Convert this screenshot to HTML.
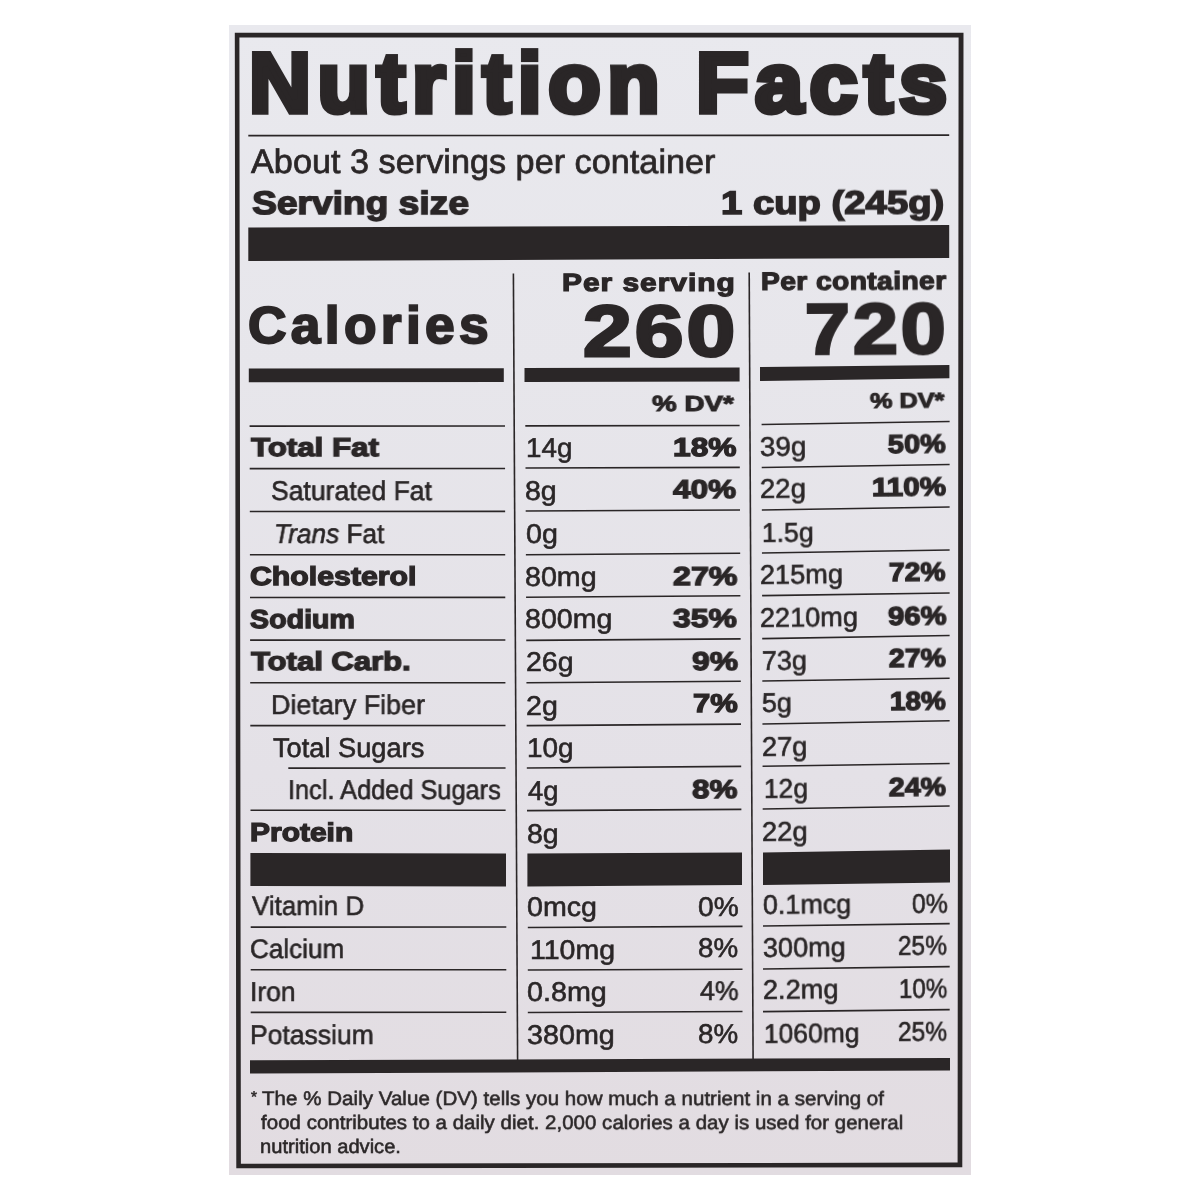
<!DOCTYPE html>
<html lang="en">
<head>
<meta charset="utf-8">
<title>Nutrition Facts</title>
<style>
html,body{margin:0;padding:0;background:#fff;}
#page{position:relative;width:1200px;height:1200px;overflow:hidden;background:#fff;filter:blur(0.5px);}
#panel{position:absolute;left:229px;top:25px;width:741.5px;height:1149.5px;background:linear-gradient(180deg,#e9e9ee 0%,#e7e6eb 30%,#e4e1e7 65%,#e2dce1 100%);}
#shapes{position:absolute;left:0;top:0;}
.t{position:absolute;will-change:transform;text-rendering:geometricPrecision;white-space:pre;font-family:"Liberation Sans", sans-serif;color:#2a2627;margin:0;padding:0;}
</style>
</head>
<body>
<div id="page">
<div id="panel"></div>
<svg id="shapes" width="1200" height="1200" viewBox="0 0 1200 1200">
<path fill="#2a2627" fill-rule="evenodd" d="M234.80,32.80 L963.50,32.80 L962.30,1167.20 L236.30,1168.30 Z M239.40,37.40 L958.60,37.40 L957.60,1162.60 L240.90,1163.70 Z"/>
<polygon fill="#2a2627" points="248.30,134.85 949.20,134.35 949.20,136.05 248.30,136.55"/>
<polygon fill="#2a2627" points="248.30,227.50 949.20,225.00 949.20,258.00 248.30,261.00"/>
<polygon fill="#2a2627" points="512.60,273.50 514.20,273.50 518.40,1060.50 516.80,1060.50"/>
<polygon fill="#2a2627" points="748.40,272.50 750.00,272.50 753.90,1059.50 752.30,1059.50"/>
<polygon fill="#2a2627" points="248.80,368.50 503.80,368.30 503.80,382.00 248.80,382.20"/>
<polygon fill="#2a2627" points="524.50,367.90 739.60,367.50 739.60,381.40 524.50,381.90"/>
<polygon fill="#2a2627" points="760.00,367.00 949.40,365.00 949.40,378.20 760.00,381.00"/>
<polygon fill="#2a2627" points="249.60,425.30 505.00,425.20 505.00,426.80 249.60,426.90"/>
<polygon fill="#2a2627" points="249.70,467.80 505.07,467.70 505.07,469.30 249.70,469.40"/>
<polygon fill="#2a2627" points="249.80,510.70 505.14,510.60 505.14,512.20 249.80,512.30"/>
<polygon fill="#2a2627" points="249.90,554.00 505.21,553.90 505.21,555.50 249.90,555.60"/>
<polygon fill="#2a2627" points="250.00,596.70 505.28,596.60 505.28,598.20 250.00,598.30"/>
<polygon fill="#2a2627" points="250.10,639.30 505.35,639.20 505.35,640.80 250.10,640.90"/>
<polygon fill="#2a2627" points="250.20,682.00 505.42,681.90 505.42,683.50 250.20,683.60"/>
<polygon fill="#2a2627" points="250.30,724.80 505.49,724.70 505.49,726.30 250.30,726.40"/>
<polygon fill="#2a2627" points="288.30,767.30 505.56,767.20 505.56,768.80 288.30,768.90"/>
<polygon fill="#2a2627" points="250.50,809.50 505.63,809.40 505.63,811.00 250.50,811.10"/>
<polygon fill="#2a2627" points="525.30,425.10 739.60,424.70 739.60,426.30 525.30,426.70"/>
<polygon fill="#2a2627" points="525.49,467.20 739.80,466.60 739.80,468.20 525.49,468.80"/>
<polygon fill="#2a2627" points="525.68,510.20 740.00,509.20 740.00,510.80 525.68,511.80"/>
<polygon fill="#2a2627" points="525.87,554.00 740.20,552.50 740.20,554.10 525.87,555.60"/>
<polygon fill="#2a2627" points="526.06,596.50 740.40,595.00 740.40,596.60 526.06,598.10"/>
<polygon fill="#2a2627" points="526.25,639.60 740.60,638.10 740.60,639.70 526.25,641.20"/>
<polygon fill="#2a2627" points="526.44,681.90 740.80,680.50 740.80,682.10 526.44,683.50"/>
<polygon fill="#2a2627" points="526.63,724.80 741.00,723.30 741.00,724.90 526.63,726.40"/>
<polygon fill="#2a2627" points="526.82,767.20 741.20,765.60 741.20,767.20 526.82,768.80"/>
<polygon fill="#2a2627" points="527.01,809.80 741.40,808.60 741.40,810.20 527.01,811.40"/>
<polygon fill="#2a2627" points="761.60,423.70 949.60,420.70 949.60,422.30 761.60,425.30"/>
<polygon fill="#2a2627" points="761.72,466.70 949.60,463.70 949.60,465.30 761.72,468.30"/>
<polygon fill="#2a2627" points="761.84,509.20 949.60,506.20 949.60,507.80 761.84,510.80"/>
<polygon fill="#2a2627" points="761.96,552.20 949.60,549.20 949.60,550.80 761.96,553.80"/>
<polygon fill="#2a2627" points="762.08,594.80 949.60,592.20 949.60,593.80 762.08,596.40"/>
<polygon fill="#2a2627" points="762.20,637.80 949.60,634.70 949.60,636.30 762.20,639.40"/>
<polygon fill="#2a2627" points="762.32,680.20 949.60,677.50 949.60,679.10 762.32,681.80"/>
<polygon fill="#2a2627" points="762.44,723.20 949.60,720.00 949.60,721.60 762.44,724.80"/>
<polygon fill="#2a2627" points="762.56,765.40 949.60,762.70 949.60,764.30 762.56,767.00"/>
<polygon fill="#2a2627" points="762.68,808.20 949.60,805.20 949.60,806.80 762.68,809.80"/>
<polygon fill="#2a2627" points="250.40,853.00 506.00,853.50 506.00,886.50 250.40,886.10"/>
<polygon fill="#2a2627" points="527.40,853.50 742.00,852.50 742.00,885.00 527.40,886.50"/>
<polygon fill="#2a2627" points="763.00,852.50 950.00,849.50 950.00,882.50 763.00,885.00"/>
<polygon fill="#2a2627" points="250.70,926.30 506.30,926.20 506.30,927.80 250.70,927.90"/>
<polygon fill="#2a2627" points="250.70,969.00 506.30,968.90 506.30,970.50 250.70,970.60"/>
<polygon fill="#2a2627" points="250.70,1011.60 506.30,1011.50 506.30,1013.10 250.70,1013.20"/>
<polygon fill="#2a2627" points="527.80,926.70 742.50,925.60 742.50,927.20 527.80,928.30"/>
<polygon fill="#2a2627" points="527.80,969.20 742.50,968.50 742.50,970.10 527.80,970.80"/>
<polygon fill="#2a2627" points="527.80,1011.70 742.50,1010.70 742.50,1012.30 527.80,1013.30"/>
<polygon fill="#2a2627" points="763.00,925.20 949.70,922.80 949.70,924.40 763.00,926.80"/>
<polygon fill="#2a2627" points="763.00,968.20 949.70,965.80 949.70,967.40 763.00,969.80"/>
<polygon fill="#2a2627" points="763.00,1010.80 949.70,1008.80 949.70,1010.40 763.00,1012.40"/>
<polygon fill="#2a2627" points="250.00,1060.20 950.00,1058.00 950.00,1070.50 250.00,1073.50"/>
</svg>
<div class="t" style="left:248.93px;top:36.21px;font-size:84.53px;line-height:94.43px;font-weight:700;-webkit-text-stroke:5.5px #2a2627;letter-spacing:6.564px;transform-origin:0 76.52px;transform:rotate(0.02deg) scaleX(1.0149);">Nutrition</div>
<div class="t" style="left:696.39px;top:36.23px;font-size:84.54px;line-height:94.45px;font-weight:700;-webkit-text-stroke:5.5px #2a2627;letter-spacing:6.138px;transform-origin:0 76.53px;transform:rotate(0.02deg) scaleX(1.0234);">Facts</div>
<div class="t" style="left:251.23px;top:143.96px;font-size:33.92px;line-height:37.90px;-webkit-text-stroke:0.7px #2a2627;transform-origin:0 30.71px;transform:rotate(0.02deg) scaleX(1.0100);">About 3 servings per container</div>
<div class="t" style="left:251.92px;top:185.46px;font-size:32.57px;line-height:36.39px;font-weight:700;-webkit-text-stroke:1.5px #2a2627;transform-origin:0 29.49px;transform:rotate(0.02deg) scaleX(1.1415);">Serving size</div>
<div class="t" style="left:720.55px;top:185.16px;font-size:32.58px;line-height:36.40px;font-weight:700;-webkit-text-stroke:1.5px #2a2627;transform-origin:0 29.49px;transform:rotate(-0.15deg) scaleX(1.1746);">1 cup (245g)</div>
<div class="t" style="left:247.82px;top:296.66px;font-size:51.97px;line-height:58.06px;font-weight:700;-webkit-text-stroke:2.0px #2a2627;letter-spacing:4.241px;transform-origin:0 47.05px;transform:rotate(0.02deg) scaleX(1.0252);">Calories</div>
<div class="t" style="left:561.58px;top:270.30px;font-size:24.99px;line-height:27.91px;font-weight:700;-webkit-text-stroke:1.2px #2a2627;letter-spacing:0.834px;transform-origin:0 22.62px;transform:rotate(0.02deg) scaleX(1.1964);">Per serving</div>
<div class="t" style="left:582.95px;top:291.72px;font-size:72.32px;line-height:80.79px;font-weight:700;-webkit-text-stroke:2.8px #2a2627;letter-spacing:2.487px;transform-origin:0 65.46px;transform:rotate(0.02deg) scaleX(1.2115);">260</div>
<div class="t" style="left:760.52px;top:268.47px;font-size:25.31px;line-height:28.28px;font-weight:700;-webkit-text-stroke:1.2px #2a2627;letter-spacing:0.333px;transform-origin:0 22.92px;transform:rotate(-0.25deg) scaleX(1.1176);">Per container</div>
<div class="t" style="left:805.03px;top:290.24px;font-size:71.84px;line-height:80.26px;font-weight:700;-webkit-text-stroke:2.6px #2a2627;letter-spacing:2.510px;transform-origin:0 65.04px;transform:rotate(-0.3deg) scaleX(1.1287);">720</div>
<div class="t" style="left:651.84px;top:391.80px;font-size:21.83px;line-height:24.39px;font-weight:700;-webkit-text-stroke:1.0px #2a2627;transform-origin:0 19.76px;transform:rotate(0.02deg) scaleX(1.2716);">% DV*</div>
<div class="t" style="left:869.73px;top:390.42px;font-size:21.10px;line-height:23.57px;font-weight:700;-webkit-text-stroke:1.0px #2a2627;transform-origin:0 19.10px;transform:rotate(-0.5deg) scaleX(1.1979);">% DV*</div>
<div class="t" style="left:250.69px;top:434.36px;font-size:25.92px;line-height:28.96px;font-weight:700;-webkit-text-stroke:1.3px #2a2627;transform-origin:0 23.46px;transform:rotate(0.02deg) scaleX(1.2067);">Total Fat</div>
<div class="t" style="left:526.31px;top:433.15px;font-size:27.15px;line-height:30.33px;-webkit-text-stroke:0.6px #2a2627;transform-origin:0 24.58px;transform:rotate(0.02deg) scaleX(1.0228);">14g</div>
<div class="t" style="left:673.02px;top:433.86px;font-size:25.91px;line-height:28.95px;font-weight:700;-webkit-text-stroke:1.3px #2a2627;transform-origin:0 23.46px;transform:rotate(0.02deg) scaleX(1.2246);">18%</div>
<div class="t" style="left:760.19px;top:431.65px;font-size:27.14px;line-height:30.32px;-webkit-text-stroke:0.6px #2a2627;transform-origin:0 24.57px;transform:rotate(-0.6deg) scaleX(1.0261);">39g</div>
<div class="t" style="left:887.94px;top:431.16px;font-size:25.91px;line-height:28.95px;font-weight:700;-webkit-text-stroke:1.3px #2a2627;transform-origin:0 23.46px;transform:rotate(-0.6deg) scaleX(1.1146);">50%</div>
<div class="t" style="left:271.48px;top:475.51px;font-size:27.29px;line-height:30.49px;-webkit-text-stroke:0.6px #2a2627;transform-origin:0 24.70px;transform:rotate(0.02deg) scaleX(0.9733);">Saturated Fat</div>
<div class="t" style="left:525.23px;top:475.72px;font-size:27.13px;line-height:30.31px;-webkit-text-stroke:0.6px #2a2627;transform-origin:0 24.56px;transform:rotate(0.02deg) scaleX(1.0515);">8g</div>
<div class="t" style="left:672.64px;top:476.43px;font-size:25.90px;line-height:28.94px;font-weight:700;-webkit-text-stroke:1.3px #2a2627;transform-origin:0 23.45px;transform:rotate(0.02deg) scaleX(1.2182);">40%</div>
<div class="t" style="left:760.28px;top:474.10px;font-size:27.13px;line-height:30.31px;-webkit-text-stroke:0.6px #2a2627;transform-origin:0 24.56px;transform:rotate(-0.6deg) scaleX(1.0158);">22g</div>
<div class="t" style="left:871.81px;top:473.78px;font-size:25.90px;line-height:28.94px;font-weight:700;-webkit-text-stroke:1.3px #2a2627;transform-origin:0 23.45px;transform:rotate(-0.6deg) scaleX(1.1460);">110%</div>
<div class="t" style="left:273.63px;top:518.55px;font-size:27.32px;line-height:30.53px;-webkit-text-stroke:0.6px #2a2627;transform-origin:0 24.74px;transform:rotate(0.02deg) scaleX(0.9610);"><i>Trans</i> Fat</div>
<div class="t" style="left:525.58px;top:519.30px;font-size:27.13px;line-height:30.31px;-webkit-text-stroke:0.6px #2a2627;transform-origin:0 24.56px;transform:rotate(0.02deg) scaleX(1.0545);">0g</div>
<div class="t" style="left:762.47px;top:517.56px;font-size:27.12px;line-height:30.30px;-webkit-text-stroke:0.6px #2a2627;transform-origin:0 24.55px;transform:rotate(-0.6deg) scaleX(0.9807);">1.5g</div>
<div class="t" style="left:250.44px;top:562.39px;font-size:26.00px;line-height:29.05px;font-weight:700;-webkit-text-stroke:1.3px #2a2627;transform-origin:0 23.54px;transform:rotate(0.02deg) scaleX(1.1639);">Cholesterol</div>
<div class="t" style="left:525.25px;top:561.88px;font-size:27.11px;line-height:30.28px;-webkit-text-stroke:0.6px #2a2627;transform-origin:0 24.54px;transform:rotate(0.02deg) scaleX(1.0567);">80mg</div>
<div class="t" style="left:672.52px;top:562.58px;font-size:25.85px;line-height:28.88px;font-weight:700;-webkit-text-stroke:1.3px #2a2627;transform-origin:0 23.40px;transform:rotate(0.02deg) scaleX(1.2475);">27%</div>
<div class="t" style="left:760.29px;top:560.01px;font-size:27.11px;line-height:30.28px;-webkit-text-stroke:0.6px #2a2627;transform-origin:0 24.54px;transform:rotate(-0.6deg) scaleX(1.0016);">215mg</div>
<div class="t" style="left:889.03px;top:559.01px;font-size:25.86px;line-height:28.89px;font-weight:700;-webkit-text-stroke:1.3px #2a2627;transform-origin:0 23.41px;transform:rotate(-0.6deg) scaleX(1.0910);">72%</div>
<div class="t" style="left:250.38px;top:605.03px;font-size:25.99px;line-height:29.03px;font-weight:700;-webkit-text-stroke:1.3px #2a2627;transform-origin:0 23.52px;transform:rotate(0.02deg) scaleX(1.1017);">Sodium</div>
<div class="t" style="left:525.26px;top:604.45px;font-size:27.11px;line-height:30.28px;-webkit-text-stroke:0.6px #2a2627;transform-origin:0 24.54px;transform:rotate(0.02deg) scaleX(1.0536);">800mg</div>
<div class="t" style="left:673.20px;top:605.15px;font-size:25.85px;line-height:28.88px;font-weight:700;-webkit-text-stroke:1.3px #2a2627;transform-origin:0 23.40px;transform:rotate(0.02deg) scaleX(1.2320);">35%</div>
<div class="t" style="left:760.30px;top:603.47px;font-size:27.09px;line-height:30.27px;-webkit-text-stroke:0.6px #2a2627;transform-origin:0 24.52px;transform:rotate(-0.6deg) scaleX(1.0016);">2210mg</div>
<div class="t" style="left:887.96px;top:602.63px;font-size:25.85px;line-height:28.88px;font-weight:700;-webkit-text-stroke:1.3px #2a2627;transform-origin:0 23.40px;transform:rotate(-0.6deg) scaleX(1.1341);">96%</div>
<div class="t" style="left:251.12px;top:647.43px;font-size:25.97px;line-height:29.02px;font-weight:700;-webkit-text-stroke:1.3px #2a2627;transform-origin:0 23.51px;transform:rotate(0.02deg) scaleX(1.1947);">Total Carb.</div>
<div class="t" style="left:526.26px;top:647.03px;font-size:27.08px;line-height:30.26px;-webkit-text-stroke:0.6px #2a2627;transform-origin:0 24.52px;transform:rotate(0.02deg) scaleX(1.0514);">26g</div>
<div class="t" style="left:691.62px;top:647.72px;font-size:25.84px;line-height:28.87px;font-weight:700;-webkit-text-stroke:1.3px #2a2627;transform-origin:0 23.40px;transform:rotate(0.02deg) scaleX(1.2305);">9%</div>
<div class="t" style="left:761.78px;top:645.93px;font-size:27.08px;line-height:30.26px;-webkit-text-stroke:0.6px #2a2627;transform-origin:0 24.52px;transform:rotate(-0.6deg) scaleX(0.9979);">73g</div>
<div class="t" style="left:888.71px;top:645.26px;font-size:25.84px;line-height:28.87px;font-weight:700;-webkit-text-stroke:1.3px #2a2627;transform-origin:0 23.39px;transform:rotate(-0.6deg) scaleX(1.1052);">27%</div>
<div class="t" style="left:271.32px;top:689.59px;font-size:27.26px;line-height:30.45px;-webkit-text-stroke:0.6px #2a2627;transform-origin:0 24.68px;transform:rotate(0.02deg) scaleX(0.9873);">Dietary Fiber</div>
<div class="t" style="left:526.27px;top:690.60px;font-size:27.06px;line-height:30.23px;-webkit-text-stroke:0.6px #2a2627;transform-origin:0 24.50px;transform:rotate(0.02deg) scaleX(1.0571);">2g</div>
<div class="t" style="left:692.52px;top:690.30px;font-size:25.82px;line-height:28.85px;font-weight:700;-webkit-text-stroke:1.3px #2a2627;transform-origin:0 23.38px;transform:rotate(0.02deg) scaleX(1.1983);">7%</div>
<div class="t" style="left:762.06px;top:688.39px;font-size:27.08px;line-height:30.25px;-webkit-text-stroke:0.6px #2a2627;transform-origin:0 24.51px;transform:rotate(-0.6deg) scaleX(0.9940);">5g</div>
<div class="t" style="left:889.95px;top:687.87px;font-size:25.82px;line-height:28.85px;font-weight:700;-webkit-text-stroke:1.3px #2a2627;transform-origin:0 23.38px;transform:rotate(-0.6deg) scaleX(1.0839);">18%</div>
<div class="t" style="left:272.63px;top:732.52px;font-size:27.22px;line-height:30.41px;-webkit-text-stroke:0.6px #2a2627;transform-origin:0 24.64px;transform:rotate(0.02deg) scaleX(1.0002);">Total Sugars</div>
<div class="t" style="left:526.92px;top:733.18px;font-size:27.05px;line-height:30.23px;-webkit-text-stroke:0.6px #2a2627;transform-origin:0 24.49px;transform:rotate(0.02deg) scaleX(1.0301);">10g</div>
<div class="t" style="left:761.80px;top:731.84px;font-size:27.05px;line-height:30.23px;-webkit-text-stroke:0.6px #2a2627;transform-origin:0 24.49px;transform:rotate(-0.6deg) scaleX(1.0093);">27g</div>
<div class="t" style="left:287.99px;top:775.29px;font-size:27.13px;line-height:30.31px;-webkit-text-stroke:0.6px #2a2627;transform-origin:0 24.56px;transform:rotate(0.02deg) scaleX(0.9345);">Incl. Added Sugars</div>
<div class="t" style="left:527.55px;top:775.75px;font-size:27.11px;line-height:30.29px;-webkit-text-stroke:0.6px #2a2627;transform-origin:0 24.54px;transform:rotate(0.02deg) scaleX(1.0093);">4g</div>
<div class="t" style="left:691.88px;top:776.45px;font-size:25.80px;line-height:28.83px;font-weight:700;-webkit-text-stroke:1.3px #2a2627;transform-origin:0 23.36px;transform:rotate(0.02deg) scaleX(1.2155);">8%</div>
<div class="t" style="left:763.51px;top:774.29px;font-size:27.11px;line-height:30.29px;-webkit-text-stroke:0.6px #2a2627;transform-origin:0 24.54px;transform:rotate(-0.6deg) scaleX(0.9745);">12g</div>
<div class="t" style="left:888.93px;top:774.11px;font-size:25.81px;line-height:28.84px;font-weight:700;-webkit-text-stroke:1.3px #2a2627;transform-origin:0 23.37px;transform:rotate(-0.6deg) scaleX(1.1062);">24%</div>
<div class="t" style="left:250.18px;top:818.92px;font-size:25.80px;line-height:28.83px;font-weight:700;-webkit-text-stroke:1.3px #2a2627;transform-origin:0 23.36px;transform:rotate(0.02deg) scaleX(1.1611);">Protein</div>
<div class="t" style="left:526.89px;top:819.33px;font-size:27.11px;line-height:30.28px;-webkit-text-stroke:0.6px #2a2627;transform-origin:0 24.54px;transform:rotate(0.02deg) scaleX(1.0519);">8g</div>
<div class="t" style="left:761.82px;top:816.76px;font-size:27.05px;line-height:30.22px;-webkit-text-stroke:0.6px #2a2627;transform-origin:0 24.49px;transform:rotate(-0.6deg) scaleX(1.0148);">22g</div>
<div class="t" style="left:251.60px;top:891.11px;font-size:26.98px;line-height:30.14px;-webkit-text-stroke:0.6px #2a2627;transform-origin:0 24.43px;transform:rotate(0.02deg) scaleX(0.9631);">Vitamin D</div>
<div class="t" style="left:527.19px;top:891.91px;font-size:27.10px;line-height:30.27px;-webkit-text-stroke:0.6px #2a2627;transform-origin:0 24.53px;transform:rotate(0.02deg) scaleX(1.0555);">0mcg</div>
<div class="t" style="left:698.25px;top:891.51px;font-size:27.11px;line-height:30.28px;-webkit-text-stroke:0.6px #2a2627;transform-origin:0 24.54px;transform:rotate(0.02deg) scaleX(1.0375);">0%</div>
<div class="t" style="left:763.13px;top:889.81px;font-size:27.10px;line-height:30.27px;-webkit-text-stroke:0.6px #2a2627;transform-origin:0 24.53px;transform:rotate(-0.6deg) scaleX(0.9940);">0.1mcg</div>
<div class="t" style="left:911.61px;top:888.51px;font-size:27.11px;line-height:30.28px;-webkit-text-stroke:0.6px #2a2627;transform-origin:0 24.54px;transform:rotate(-0.6deg) scaleX(0.9185);">0%</div>
<div class="t" style="left:249.79px;top:934.37px;font-size:26.96px;line-height:30.12px;-webkit-text-stroke:0.6px #2a2627;transform-origin:0 24.41px;transform:rotate(0.02deg) scaleX(0.9671);">Calcium</div>
<div class="t" style="left:529.73px;top:934.86px;font-size:27.08px;line-height:30.26px;-webkit-text-stroke:0.6px #2a2627;transform-origin:0 24.52px;transform:rotate(0.02deg) scaleX(1.0523);">110mg</div>
<div class="t" style="left:698.42px;top:933.46px;font-size:27.09px;line-height:30.27px;-webkit-text-stroke:0.6px #2a2627;transform-origin:0 24.52px;transform:rotate(0.02deg) scaleX(1.0249);">8%</div>
<div class="t" style="left:763.06px;top:933.06px;font-size:27.10px;line-height:30.27px;-webkit-text-stroke:0.6px #2a2627;transform-origin:0 24.53px;transform:rotate(-0.6deg) scaleX(0.9989);">300mg</div>
<div class="t" style="left:897.96px;top:931.21px;font-size:27.10px;line-height:30.27px;-webkit-text-stroke:0.6px #2a2627;transform-origin:0 24.53px;transform:rotate(-0.6deg) scaleX(0.9030);">25%</div>
<div class="t" style="left:249.90px;top:976.61px;font-size:27.09px;line-height:30.27px;-webkit-text-stroke:0.6px #2a2627;transform-origin:0 24.53px;transform:rotate(0.02deg) scaleX(0.9791);">Iron</div>
<div class="t" style="left:527.18px;top:976.81px;font-size:27.09px;line-height:30.27px;-webkit-text-stroke:0.6px #2a2627;transform-origin:0 24.52px;transform:rotate(0.02deg) scaleX(1.0609);">0.8mg</div>
<div class="t" style="left:700.18px;top:976.41px;font-size:27.08px;line-height:30.26px;-webkit-text-stroke:0.6px #2a2627;transform-origin:0 24.52px;transform:rotate(0.02deg) scaleX(0.9887);">4%</div>
<div class="t" style="left:762.65px;top:975.31px;font-size:27.09px;line-height:30.27px;-webkit-text-stroke:0.6px #2a2627;transform-origin:0 24.52px;transform:rotate(-0.6deg) scaleX(1.0039);">2.2mg</div>
<div class="t" style="left:898.94px;top:973.91px;font-size:27.09px;line-height:30.27px;-webkit-text-stroke:0.6px #2a2627;transform-origin:0 24.52px;transform:rotate(-0.6deg) scaleX(0.8950);">10%</div>
<div class="t" style="left:249.73px;top:1019.86px;font-size:27.03px;line-height:30.19px;-webkit-text-stroke:0.6px #2a2627;transform-origin:0 24.47px;transform:rotate(0.02deg) scaleX(0.9824);">Potassium</div>
<div class="t" style="left:527.17px;top:1019.76px;font-size:27.07px;line-height:30.24px;-webkit-text-stroke:0.6px #2a2627;transform-origin:0 24.51px;transform:rotate(0.02deg) scaleX(1.0617);">380mg</div>
<div class="t" style="left:698.43px;top:1019.35px;font-size:27.07px;line-height:30.24px;-webkit-text-stroke:0.6px #2a2627;transform-origin:0 24.51px;transform:rotate(0.02deg) scaleX(1.0256);">8%</div>
<div class="t" style="left:764.32px;top:1018.55px;font-size:27.06px;line-height:30.23px;-webkit-text-stroke:0.6px #2a2627;transform-origin:0 24.50px;transform:rotate(-0.6deg) scaleX(0.9775);">1060mg</div>
<div class="t" style="left:897.96px;top:1016.60px;font-size:27.07px;line-height:30.24px;-webkit-text-stroke:0.6px #2a2627;transform-origin:0 24.51px;transform:rotate(-0.6deg) scaleX(0.9104);">25%</div>
<div class="t" style="left:250.82px;top:1089.05px;font-size:15.65px;line-height:17.49px;-webkit-text-stroke:0.5px #2a2627;transform-origin:0 14.17px;transform:rotate(0.02deg) scaleX(0.9837);">*</div>
<div class="t" style="left:261.95px;top:1089.30px;font-size:19.64px;line-height:21.95px;-webkit-text-stroke:0.55px #2a2627;transform-origin:0 17.78px;transform:rotate(0.02deg) scaleX(1.0488);">The % Daily Value (DV) tells you how much a nutrient in a serving of</div>
<div class="t" style="left:261.04px;top:1112.99px;font-size:19.62px;line-height:21.92px;-webkit-text-stroke:0.55px #2a2627;transform-origin:0 17.76px;transform:rotate(0.02deg) scaleX(1.0464);">food contributes to a daily diet. 2,000 calories a day is used for general</div>
<div class="t" style="left:259.70px;top:1136.99px;font-size:19.62px;line-height:21.91px;-webkit-text-stroke:0.55px #2a2627;transform-origin:0 17.76px;transform:rotate(0.02deg) scaleX(1.0263);">nutrition advice.</div>
</div>
</body>
</html>
